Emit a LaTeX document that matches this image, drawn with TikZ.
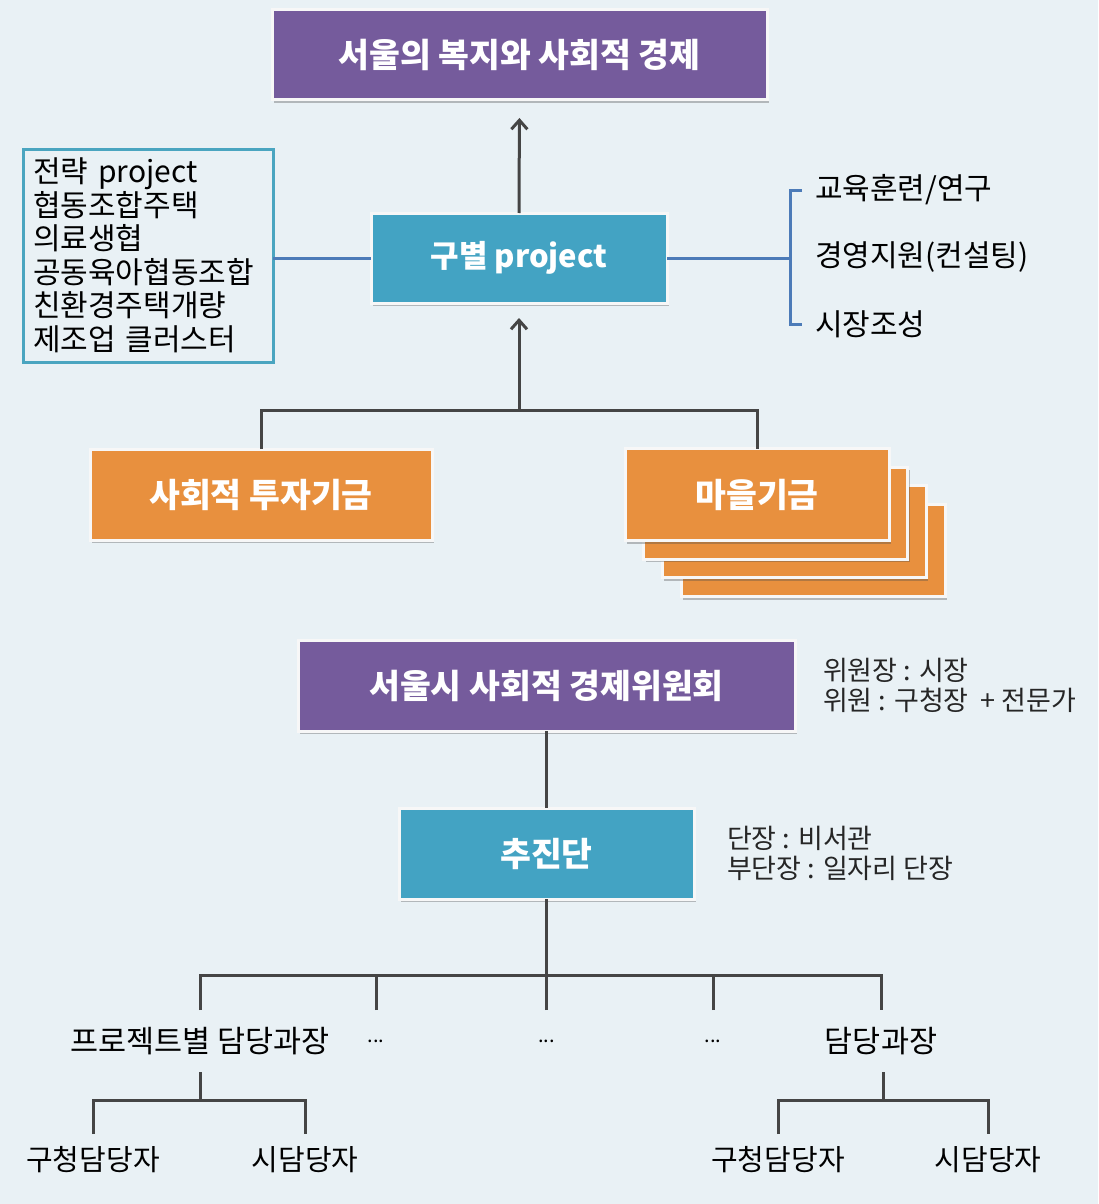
\documentclass[tikz,border=0pt]{standalone}
\usepackage{fontspec}
\setmainfont{Noto Sans CJK KR}
\usetikzlibrary{shadows,arrows.meta}
\definecolor{bgc}{HTML}{E9F1F5}
\definecolor{purp}{HTML}{755B9C}
\definecolor{tealc}{HTML}{43A3C3}
\definecolor{orng}{HTML}{E8903E}
\definecolor{listbd}{HTML}{4AA5C0}
\definecolor{blueln}{HTML}{4C7BB8}
\definecolor{darkln}{HTML}{454545}
\tikzset{
  mainbox/.style={draw=white!94!gray, line width=3pt, text=white, inner sep=0pt, outer sep=0pt,
     font=\fontsize{33.5}{38}\selectfont\bfseries,
     drop shadow={shadow xshift=2pt, shadow yshift=-3pt, opacity=0.35, fill=black!70}},
  purpbox/.style={mainbox, fill=purp},
  tealbox/.style={mainbox, fill=tealc},
  orbox/.style={mainbox, fill=orng},
  plain/.style={inner sep=0pt, outer sep=0pt, text=black, font=\fontsize{30}{33.5}\selectfont},
  note/.style={inner sep=0pt, outer sep=0pt, text=black!85, align=left, font=\fontsize{27}{30}\selectfont},
  dline/.style={draw=darkln, line width=3pt},
  bline/.style={draw=blueln, line width=3pt},
  uparrow/.style={dline, -{Straight Barb[length=9pt,width=16pt,line width=3pt]}},
}
\begin{document}
\begin{tikzpicture}[x=1pt,y=-1pt]
\useasboundingbox (0,0) rectangle (1098,1204);
\fill[bgc] (0,0) rectangle (1098,1204);

% top
\node[purpbox, minimum width=495, minimum height=90] (top) at (519.5,55) {서울의 복지와 사회적 경제};
\node[tealbox, minimum width=296, minimum height=90, font=\fontsize{31}{36}\selectfont\bfseries] (proj) at (519,258) {구별 project};
\draw[uparrow, shorten >=18pt] (proj.north) -- (top.south);

% left list
\node[plain, draw=listbd, line width=3pt, anchor=north west, minimum width=248, minimum height=213,
      text width=230, align=left, inner xsep=10pt] (list) at (23,149)
  {전략 project\\협동조합주택\\의료생협\\공동육아협동조합\\친환경주택개량\\제조업 클러스터};
\draw[bline] (list.east |- proj.west) -- (proj.west);

% right bracket
\node[plain, anchor=west] (r1) at (815,190) {교육훈련/연구};
\node[plain, anchor=west] (r2) at (815,257) {경영지원(컨설팅)};
\node[plain, anchor=west] (r3) at (815,324) {시장조성};
\coordinate (brk) at (790,258);
\draw[bline] (proj.east) -- (brk);
\draw[bline] ([xshift=-13pt]r1.west) -- (brk |- r1.west) -- (brk |- r3.west) -- ([xshift=-13pt]r3.west);

% funds
\node[orbox, minimum width=264, minimum height=92] (s3) at (813,550.5) {};
\node[orbox, minimum width=264, minimum height=92] (s2) at (794.4,531.9) {};
\node[orbox, minimum width=264, minimum height=92] (s1) at (775.7,513.2) {};
\node[orbox, minimum width=264, minimum height=92] (fund2) at (757,494.5) {마을기금};
\node[orbox, minimum width=342, minimum height=91] (fund1) at (261,494.5) {사회적 투자기금};
\coordinate (j1) at (519,410);
\draw[dline] (fund1.north) |- (j1) -| (fund2.north);
\draw[uparrow, shorten >=15pt] (j1) -- (proj.south);

% committee
\node[purpbox, minimum width=497, minimum height=91] (comm) at (546.5,685.5) {서울시 사회적 경제위원회};
\node[note, anchor=west] (commnote) at (823,685) {위원장 : 시장\\위원 : 구청장 \ + 전문가};
\node[tealbox, minimum width=295, minimum height=91] (chu) at (546.5,853.5) {추진단};
\node[note, anchor=west] (chunote) at (727,853) {단장 : 비서관\\부단장 : 일자리 단장};
\draw[dline] (comm.south) -- (chu.north);

% bottom tree
\tikzset{lvl/.style={plain, font=\fontsize{30.5}{34}\selectfont, minimum height=62}}
\node[lvl] (b1) at (200,1041) {프로젝트별 담당과장};
\node[lvl, font=\fontsize{20}{24}\selectfont] (b2) at (376,1041) {...};
\node[lvl, font=\fontsize{20}{24}\selectfont] (b3) at (546.5,1041) {...};
\node[lvl, font=\fontsize{20}{24}\selectfont] (b4) at (713,1041) {...};
\node[lvl] (b5) at (881,1041) {담당과장};
\coordinate (t0) at (546.5,975);
\draw[dline] (chu.south) -- (t0);
\draw[dline] (b1.north) |- (b5.north |- t0) -- (b5.north);
\draw[dline] (b2.north) -- (b2.north |- t0);
\draw[dline] (b3.north) -- (b3.north |- t0);
\draw[dline] (b4.north) -- (b4.north |- t0);

\tikzset{leaf/.style={plain, font=\fontsize{29}{32}\selectfont, minimum height=52}}
\node[leaf] (c1) at (93,1160) {구청담당자};
\node[leaf] (c2) at (305,1160) {시담당자};
\node[leaf] (c3) at (778,1160) {구청담당자};
\node[leaf] (c4) at (988,1160) {시담당자};
\coordinate (h1) at (200,1100);
\coordinate (h2) at (883,1100);
\draw[dline] (b1.south) -- (h1);
\draw[dline] (c1.north) |- (h1) -| (c2.north);
\draw[dline] (b5.south -| h2) -- (h2);
\draw[dline] (c3.north) |- (h2) -| (c4.north);
\end{tikzpicture}
\end{document}
